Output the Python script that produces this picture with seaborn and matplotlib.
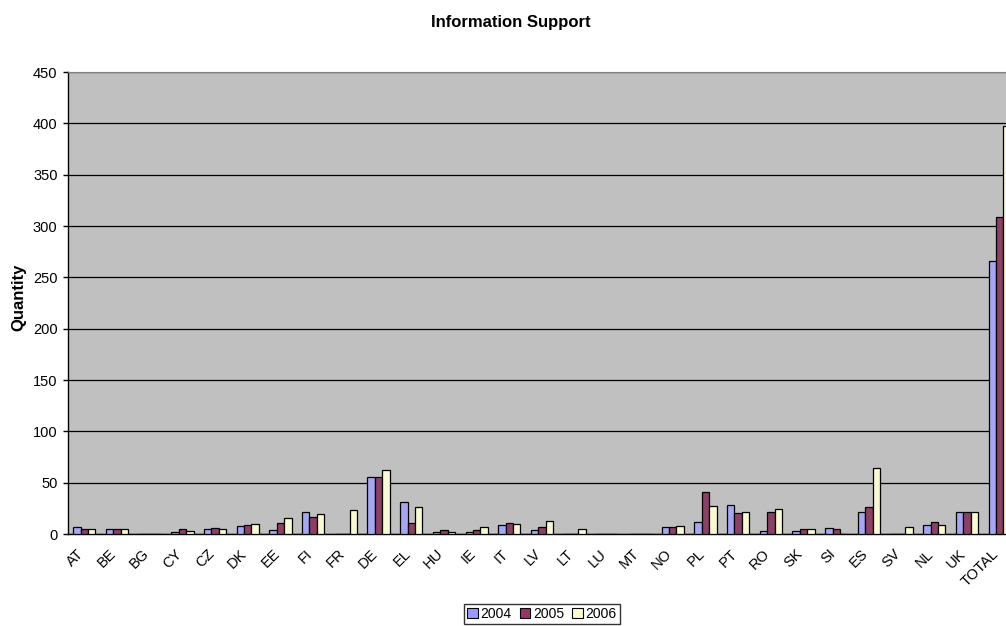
import numpy as np
import pandas as pd
import matplotlib
matplotlib.use("Agg")
import matplotlib.pyplot as plt
import matplotlib.transforms as mtransforms
import seaborn as sns
from matplotlib.patches import Patch


# chart data
countries = ["AT", "BE", "BG", "CY", "CZ", "DK", "EE", "FI", "FR", "DE",
             "EL", "HU", "IE", "IT", "LV", "LT", "LU", "MT", "NO", "PL",
             "PT", "RO", "SK", "SI", "ES", "SV", "NL", "UK", "TOTAL"]
years = ["2004", "2005", "2006"]
values_2004 = [7, 5, 0, 2, 5, 8, 4, 21, 0, 56,
               31, 2, 2, 9, 4, 0, 0, 0, 7, 12,
               28, 3, 3, 6, 21, 0, 9, 21, 266]
values_2005 = [5, 5, 0, 5, 6, 9, 11, 17, 0, 56,
               11, 4, 4, 11, 7, 0, 0, 0, 7, 41,
               20, 21, 5, 5, 26, 0, 12, 21, 309]
values_2006 = [5, 5, 0, 3, 5, 10, 16, 19, 23, 62,
               26, 2, 7, 10, 13, 5, 0, 0, 8, 27,
               21, 24, 5, 0, 64, 7, 9, 21, 397]
y_ticks = [0, 50, 100, 150, 200, 250, 300, 350, 400, 450]

colors = ["#9999FF", "#993366", "#FFFFCC"]

# long table for seaborn
df = pd.DataFrame({
    "Country": countries * 3,
    "Year": [years[0]] * len(countries) + [years[1]] * len(countries) + [years[2]] * len(countries),
    "Quantity": values_2004 + values_2005 + values_2006,
})

sns.set_style("white")
plt.rcParams["font.family"] = ["Liberation Sans", "DejaVu Sans"]
plt.rcParams["text.color"] = "black"
plt.rcParams["axes.labelcolor"] = "black"
plt.rcParams["xtick.color"] = "black"
plt.rcParams["ytick.color"] = "black"

fig = plt.figure(figsize=(10.06, 6.26), dpi=100)
# plot area runs past the right edge of the picture, like the original
ax = fig.add_axes([68 / 1006, 92 / 626, 948 / 1006, 462 / 626])
ax.set_facecolor("#C0C0C0")

sns.barplot(data=df, x="Country", y="Quantity", hue="Year",
            order=countries, hue_order=years, palette=colors,
            width=0.68, edgecolor="black", linewidth=0.9,
            legend=False, ax=ax, zorder=3)

ax.set_ylim(0, 450)
ax.set_xlim(-0.5, len(countries) - 0.5)
ax.set_yticks(y_ticks)
ax.set_yticklabels([str(t) for t in y_ticks], fontsize=10.5)
ax.yaxis.grid(True, color="black", linewidth=0.9, zorder=1)
ax.set_axisbelow(True)

# category boundary ticks, labels at centres (nudged left like the original)
ax.set_xticks(np.arange(len(countries)))
ax.set_xticklabels(countries, rotation=45, ha="right", rotation_mode="anchor", fontsize=10.5)
ax.set_xticks(np.arange(len(countries) + 1) - 0.5, minor=True)
ax.tick_params(axis="x", which="major", length=0, pad=9)
ax.tick_params(axis="x", which="minor", length=3.5, width=1, direction="out")
ax.tick_params(axis="y", length=3.5, width=1, direction="out", left=True, pad=4)
shift = mtransforms.ScaledTranslation(-0.08, 0, fig.dpi_scale_trans)
for lab in ax.get_xticklabels():
    lab.set_transform(lab.get_transform() + shift)

for side in ["left", "bottom"]:
    ax.spines[side].set_color("black")
    ax.spines[side].set_linewidth(1)
ax.spines["top"].set_color("#808080")
ax.spines["right"].set_visible(False)

ax.set_xlabel("")
ax.set_ylabel("")
fig.text(18.5 / 1006, 1 - 297 / 626, "Quantity", rotation=90, ha="center", va="center",
         fontsize=12, fontweight="bold")
fig.text(511 / 1006, 1 - 23 / 626, "Information Support", ha="center", va="center",
         fontsize=12, fontweight="bold")

# legend box at the bottom
handles = [Patch(facecolor=c, edgecolor="black", linewidth=0.8) for c in colors]
fig.legend(handles, years, loc="center", bbox_to_anchor=(542 / 1006, 1 - 614 / 626),
           ncol=3, frameon=True, fancybox=False, edgecolor="black", fontsize=10,
           handlelength=0.75, handleheight=0.75, handletextpad=0.2, columnspacing=0.6,
           borderpad=0.25, borderaxespad=0)

fig.savefig("out.png", dpi=100)
